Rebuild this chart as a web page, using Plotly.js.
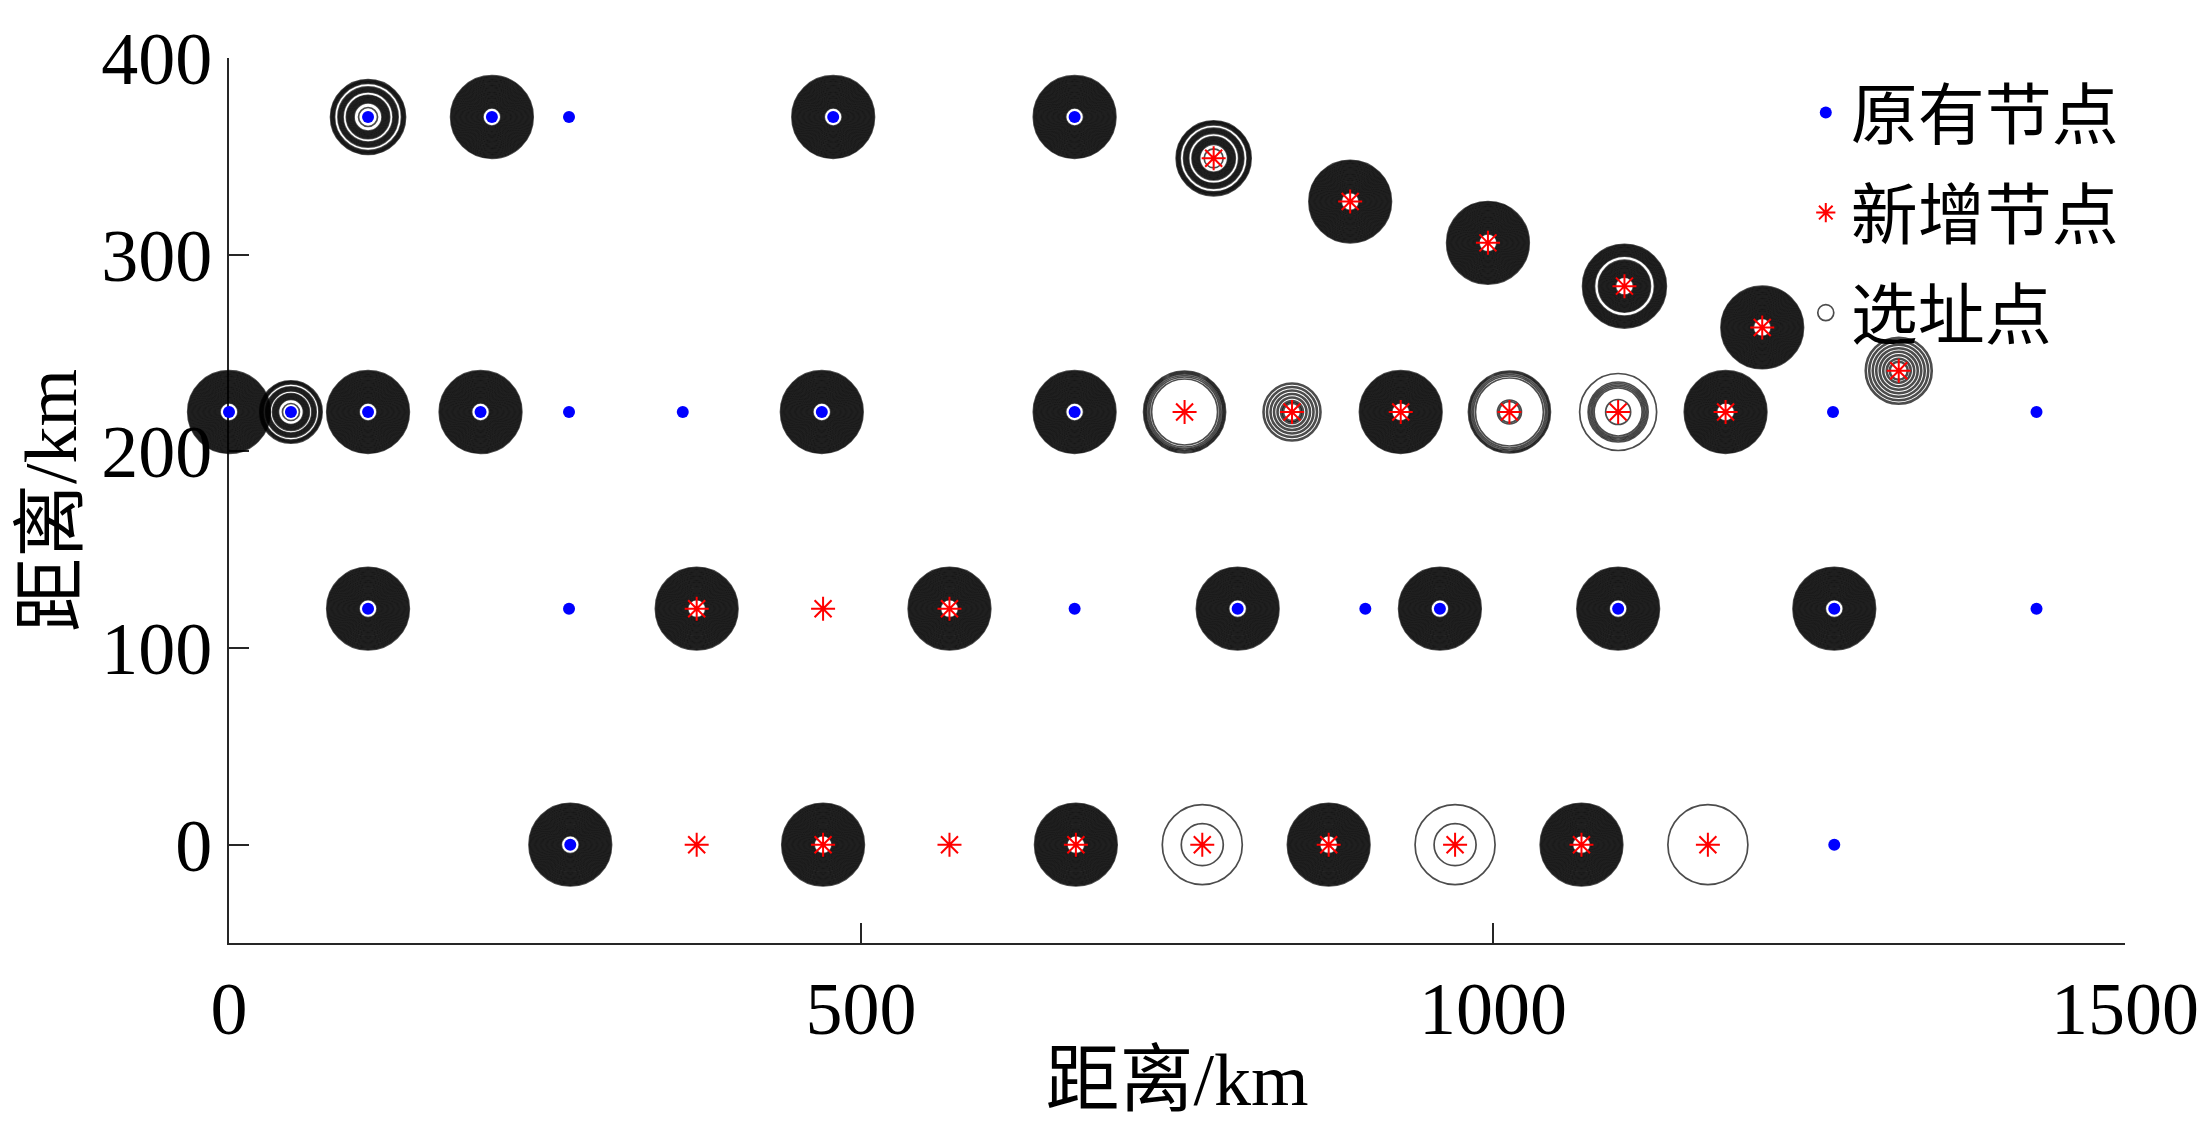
<!DOCTYPE html>
<html>
<head>
<meta charset="utf-8">
<script src="https://cdn.plot.ly/plotly-3.0.1.min.js"></script>
<style>
  html, body { margin: 0; padding: 0; background: #ffffff; }
  #chart { width: 2203px; height: 1121px; }
</style>
</head>
<body>
<div id="chart"></div>
<script>
// ---------------- data ----------------
// 原有节点 (existing nodes)
const oldX = [110, 208, 269, 478, 669,
              0, 49, 110, 199, 269, 359, 469, 669, 1269, 1430,
              110, 269, 669, 798, 899, 958, 1099, 1270, 1430,
              270, 1270];
const oldY = [370, 370, 370, 370, 370,
              220, 220, 220, 220, 220, 220, 220, 220, 220, 220,
              120, 120, 120, 120, 120, 120, 120, 120, 120,
              0, 0];

// 新增节点 (new nodes)
const newX = [779, 887, 996, 1104, 1213, 1321,
              756, 841, 927, 1013, 1099, 1184,
              370, 470, 570,
              370, 470, 570, 670, 770, 870, 970, 1070, 1170];
const newY = [349, 327, 306, 284, 263, 241,
              220, 220, 220, 220, 220, 220,
              120, 120, 120,
              0, 0, 0, 0, 0, 0, 0, 0, 0];

// 选址点 (selected sites) and the ring pattern drawn at each of them
const siteX = [110, 208, 478, 669,
               779, 887, 996, 1104, 1213, 1321,
               0, 49, 110, 199, 469, 669, 756, 841, 927, 1013, 1099, 1184,
               110, 370, 570, 798, 958, 1099, 1270,
               270, 470, 670, 770, 870, 970, 1070, 1170];
const siteY = [370, 370, 370, 370,
               349, 327, 306, 284, 263, 241,
               220, 220, 220, 220, 220, 220, 220, 220, 220, 220, 220, 220,
               120, 120, 120, 120, 120, 120, 120,
               0, 0, 0, 0, 0, 0, 0, 0, 0];
const siteType = ['banded', 'full', 'full', 'full',
                  'banded', 'full', 'full', 'gapped', 'full', 'striped',
                  'full', 'bandedSmall', 'full', 'full', 'full', 'full', 'outer', 'stripedSmall', 'full', 'outerInner', 'middle', 'full',
                  'full', 'full', 'full', 'full', 'full', 'full', 'full',
                  'full', 'full', 'full', 'double', 'full', 'double', 'full', 'single'];

// legend labels and axis texts
const seriesNames = ['原有节点', '新增节点', '选址点'];
const xTitle = '距离/km';
const yTitle = '距离/km';
const xTicks = [0, 500, 1000, 1500];
const yTicks = [0, 100, 200, 300, 400];

// ---------------- styles (ring diameters in px for each pattern) ----------------
function band(a, b, step) {
  const out = [];
  for (let d = a; d <= b + 1e-9; d += step) out.push(d);
  return out;
}
const ringStyles = {
  full:         band(18, 84, 1.7),
  banded:       [19].concat(band(28, 44, 1.7), band(50, 61, 1.7), band(67, 75, 1.6)),
  bandedSmall:  [17].concat(band(25, 37, 1.7), band(42, 51, 1.7), band(56, 63, 1.6)),
  gapped:       band(18, 53, 1.7).concat(band(60, 84, 1.7)),
  striped:      [18].concat(band(24, 70, 7)),
  stripedSmall: [18].concat(band(22, 63, 7)),
  outer:        [66, 70, 73, 76, 78, 80, 82],
  outerInner:   [21, 24, 68, 72, 75, 78, 80, 82],
  middle:       [25, 48, 51, 54, 57, 60, 77],
  double:       [42, 80],
  single:       [80]
};
const ringWidth = { striped: 2.6, stripedSmall: 2.6 };

// ---------------- traces ----------------
const traces = [];
let firstSiteTrace = true;
Object.keys(ringStyles).forEach(function (type) {
  const xs = [], ys = [], ss = [];
  siteX.forEach(function (x, i) {
    if (siteType[i] !== type) return;
    ringStyles[type].forEach(function (d) {
      xs.push(x); ys.push(siteY[i]); ss.push(d);
    });
  });
  if (!xs.length) return;
  traces.push({
    type: 'scatter', mode: 'markers', x: xs, y: ys,
    name: seriesNames[2], legendgroup: 'site', legendrank: 3,
    showlegend: firstSiteTrace, cliponaxis: false, hoverinfo: 'skip',
    marker: { symbol: 'circle-open', size: ss, color: '#000000',
              line: { color: '#000000', width: ringWidth[type] || 1.7 } }
  });
  firstSiteTrace = false;
});

traces.push({
  type: 'scatter', mode: 'markers', x: oldX, y: oldY,
  name: seriesNames[0], legendrank: 1, cliponaxis: false,
  marker: { symbol: 'circle', size: 12, color: '#0000ff', line: { width: 0 } }
});
traces.push({
  type: 'scatter', mode: 'markers', x: newX, y: newY,
  name: seriesNames[1], legendrank: 2, cliponaxis: false,
  marker: { symbol: 'asterisk-open', size: 20, color: '#ff0000',
            line: { color: '#ff0000', width: 2 } }
});

// ---------------- layout ----------------
const serif = '"Liberation Serif", "Times New Roman", "Noto Sans CJK SC", serif';
const layout = {
  width: 2203, height: 1121,
  margin: { l: 229, r: 78, t: 58, b: 178 },
  paper_bgcolor: '#ffffff', plot_bgcolor: '#ffffff',
  font: { family: serif, color: '#000000', size: 74 },
  showlegend: true,
  legend: {
    x: 0.829, xanchor: 'left', y: 0.995, yanchor: 'top',
    bgcolor: 'rgba(0,0,0,0)', borderwidth: 0,
    font: { family: serif, size: 67, color: '#000000' },
    itemwidth: 40
  },
  xaxis: {
    range: [0, 1500], tickvals: xTicks, ticktext: xTicks.map(String),
    ticks: 'inside', ticklen: 20, tickwidth: 2, tickcolor: '#262626',
    showline: true, linecolor: '#262626', linewidth: 2,
    showgrid: false, zeroline: false, mirror: false, layer: 'below traces',
    tickfont: { family: serif, size: 74, color: '#000000' },
    title: { text: xTitle, font: { family: serif, size: 74, color: '#000000' }, standoff: 8 },
    automargin: false, fixedrange: true
  },
  yaxis: {
    range: [-50, 400], tickvals: yTicks, ticktext: yTicks.map(String),
    ticks: 'inside', ticklen: 20, tickwidth: 2, tickcolor: '#262626',
    showline: true, linecolor: '#262626', linewidth: 2,
    showgrid: false, zeroline: false, mirror: false, layer: 'below traces',
    tickfont: { family: serif, size: 74, color: '#000000' },
    title: { text: yTitle, font: { family: serif, size: 74, color: '#000000' }, standoff: 0 },
    automargin: false, fixedrange: true
  }
};

Plotly.newPlot('chart', traces, layout, { staticPlot: true, displayModeBar: false });
</script>
</body>
</html>
